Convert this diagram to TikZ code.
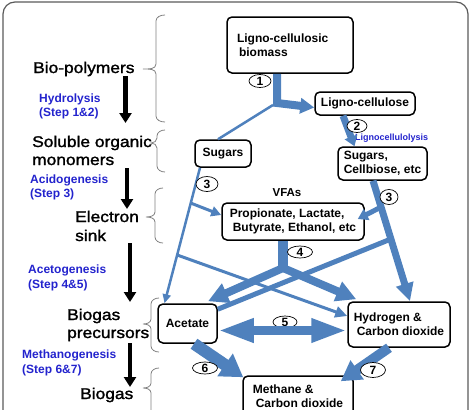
\documentclass[tikz,border=0pt]{standalone}
\usepackage{fontspec}
\setmainfont{Liberation Sans}
\newfontfamily\lblfont[FakeStretch=1.12,FakeBold=1.6]{Liberation Sans}
\usetikzlibrary{arrows.meta,shapes.geometric}
\definecolor{arrblue}{RGB}{79,129,189}
\definecolor{txtblue}{RGB}{35,35,205}
\definecolor{bracegray}{RGB}{128,128,128}
\definecolor{framegray}{RGB}{90,90,90}
\newcommand\mybrace[6]{\draw[bracestyle] (#1,#4) to[out=180,in=90] (#2,#4+6) -- (#2,#5-5) to[out=-90,in=0] (#3,#5) to[out=0,in=90] (#2,#5+5) -- (#2,#6-6) to[out=-90,in=180] (#1,#6);}
\begin{document}
\begin{tikzpicture}[x=1pt,y=-1pt,
 box/.style={draw, line width=1.5pt, rounded corners=5pt, fill=white, inner sep=0pt, align=left, font=\fontsize{12}{14}\selectfont\bfseries},
 num/.style={ellipse, draw, line width=0.7pt, fill=white, inner sep=0pt, font=\fontsize{12}{12}\selectfont\bfseries},
 lbl/.style={anchor=base west, inner sep=0pt, font=\lblfont\fontsize{15.5}{18}\selectfont},
 blbl/.style={anchor=base west, inner sep=0pt, text=txtblue, font=\fontsize{12}{14}\selectfont\bfseries},
 flow/.style={draw=arrblue, line join=miter},
 darr/.style={line width=4.5pt, -{Triangle[width=12pt,length=10pt]}},
 bracestyle/.style={draw=bracegray, line width=0.8pt},
]
\useasboundingbox (0,0) rectangle (469,410);
\clip (0,0) rectangle (469,410);
\draw[framegray, line width=1.2pt, rounded corners=12pt] (3,2) rectangle (468,440);

% braces
\mybrace{165}{156}{143}{15}{69}{122}
\mybrace{165}{157}{151}{130}{143}{172}
\mybrace{163}{155}{146}{188}{217}{243}
\mybrace{159}{151}{143}{298}{324}{352}
\mybrace{159}{151}{143}{368}{388}{430}

% left labels
\node[lbl] (l1) at (33,73) {Bio-polymers};
\node[lbl] (l2a) at (32,147) {Soluble organic};
\node[lbl] (l2b) at (32,165) {monomers};
\node[lbl] (l3a) at (75,222) {Electron};
\node[lbl] (l3b) at (75,241) {sink};
\node[lbl] (l4a) at (67,320) {Biogas};
\node[lbl] (l4b) at (67,338) {precursors};
\node[lbl] (l5) at (80,399) {Biogas};

\node[blbl] (h1) at (39,102) {Hydrolysis};
\node[blbl] (h2) at (39,116) {(Step 1\&2)};
\node[blbl] (a1) at (30,183) {Acidogenesis};
\node[blbl] (a2) at (30,197) {(Step 3)};
\node[blbl] (g1) at (28,273) {Acetogenesis};
\node[blbl] (g2) at (28,288) {(Step 4\&5)};
\node[blbl] (m1) at (22,358) {Methanogenesis};
\node[blbl] (m2) at (22,373) {(Step 6\&7)};

% black down arrows
\coordinate (k1s) at (125.5,76); \coordinate (k1e) at (125.5,123);
\coordinate (k2s) at (127,168); \coordinate (k2e) at (127,209);
\coordinate (k3s) at (130,243); \coordinate (k3e) at (130,302);
\coordinate (k4s) at (130,343); \coordinate (k4e) at (130,387);
\draw[darr] (k1s) -- (k1e);
\draw[darr] (k2s) -- (k2e);
\draw[darr] (k3s) -- (k3e);
\draw[darr] (k4s) -- (k4e);

% boxes
\node[box, minimum width=126pt, minimum height=56pt, text width=106pt] (bio) at (290,45) {Ligno-cellulosic\\\hspace*{2pt}biomass};
\node[box, minimum width=100pt, minimum height=23pt, align=center] (lc) at (365,103.5) {Ligno-cellulose};
\node[box, minimum width=56pt, minimum height=27pt, align=center] (sug) at (223,153.5) {Sugars};
\node[box, minimum width=89pt, minimum height=33pt] (sce) at (382.5,163.5) {Sugars,\\Cellbiose, etc};
\node[box, minimum width=142pt, minimum height=37pt] (pro) at (293,221.5) {Propionate, Lactate,\\\hspace*{3pt}Butyrate, Ethanol, etc};
\node[box, minimum width=59pt, minimum height=39pt, align=center] (ace) at (187.5,323.5) {Acetate};
\node[box, minimum width=102pt, minimum height=45pt] (hyd) at (399,324.5) {Hydrogen \&\\\hspace*{3pt}Carbon dioxide};
\node[box, minimum width=110pt, minimum height=40pt] (met) at (298,396) {Methane \&\\\hspace*{3pt}Carbon dioxide};

\node[blbl, font=\fontsize{9}{10}\selectfont\bfseries] (lys) at (355,140) {Lignocellulolysis};
\node[font=\fontsize{11.5}{12}\selectfont\bfseries, inner sep=0pt] (vfa) at (287,193) {VFAs};

% blue flows
\coordinate (j1) at (277,103);
\draw[flow, line width=8pt, -{Triangle[width=15pt,length=14pt]}] (bio.south -| j1) -- (j1) -- ([yshift=-4pt]lc.west);
\draw[flow, line width=2.5pt] ([xshift=-4pt,yshift=-2pt]j1) -- ([xshift=-5pt]sug.north);
\draw[flow, line width=7pt, -{Triangle[width=13pt,length=10pt]}] ([xshift=-22pt]lc.south) -- ([xshift=-28pt]sce.north);

\coordinate (b1) at (190.6,203);
\coordinate (b2) at (177.2,255);
\draw[flow, line width=2.5pt, -{Triangle[width=8pt,length=9pt]}] ([xshift=-23pt]sug.south) -- ([xshift=-23pt]ace.north);
\draw[flow, line width=3pt, -{Triangle[width=10pt,length=10pt]}] (b1) -- ([yshift=6.5pt]pro.west);
\draw[flow, line width=3pt, -{Triangle[width=11pt,length=12pt]}] (b2) -- ([yshift=8.5pt]hyd.west);

\coordinate (c1) at (381.2,207);
\coordinate (c2) at (390.9,239);
\draw[flow, line width=7pt, -{Triangle[width=17pt,length=18pt]}] ([xshift=-9.5pt]sce.south) -- ([xshift=11pt]hyd.north);
\draw[flow, line width=5pt, -{Triangle[width=12pt,length=10pt]}] (c1) -- ([xshift=-7pt,yshift=2.5pt]pro.east);
\draw[flow, line width=5pt] (c2) -- ([yshift=-6pt]ace.north east);

\coordinate (j4) at (283,268);
\draw[flow, line width=10pt] ([xshift=-10pt]pro.south) -- ([yshift=-4pt]j4);
\draw[flow, line width=8pt, -{Triangle[width=20pt,length=20pt]}] (j4) -- ([xshift=20.5pt,yshift=2pt]ace.north);
\draw[flow, line width=8pt, -{Triangle[width=20pt,length=20pt]}] (j4) -- ([xshift=9pt,yshift=2pt]hyd.north west);

\node[num, minimum width=24pt, minimum height=12pt] (n5) at (285,322) {5};
\draw[flow, line width=9pt, {Triangle[width=22pt,length=36pt]}-{Triangle[width=22pt,length=36pt]}] ([yshift=-7pt]ace.east) -- ([yshift=-6pt]hyd.west);

\draw[flow, line width=12pt, -{Triangle[width=26pt,length=22pt]}] ([xshift=6.5pt]ace.south) -- ([xshift=1pt,yshift=-2pt]met.north west);
\draw[flow, line width=10pt, -{Triangle[width=22pt,length=20pt]}] ([xshift=-10pt]hyd.south) -- ([xshift=-13pt,yshift=-6pt]met.north east);

% step numbers
\node[num, minimum width=22pt, minimum height=13pt] (n1) at (260,81) {1};
\node[num, minimum width=20pt, minimum height=13pt] (n2) at (357,126) {2};
\node[num, minimum width=22pt, minimum height=15pt] (n3a) at (207,184) {3};
\node[num, minimum width=18pt, minimum height=15pt] (n3b) at (389,197) {3};
\node[num, minimum width=25pt, minimum height=12pt] (n4) at (300,252) {4};
\node[num, minimum width=25pt, minimum height=11pt] (n6) at (205,368) {6};
\node[num, minimum width=25pt, minimum height=15pt] (n7) at (373,370) {7};
\end{tikzpicture}
\end{document}
